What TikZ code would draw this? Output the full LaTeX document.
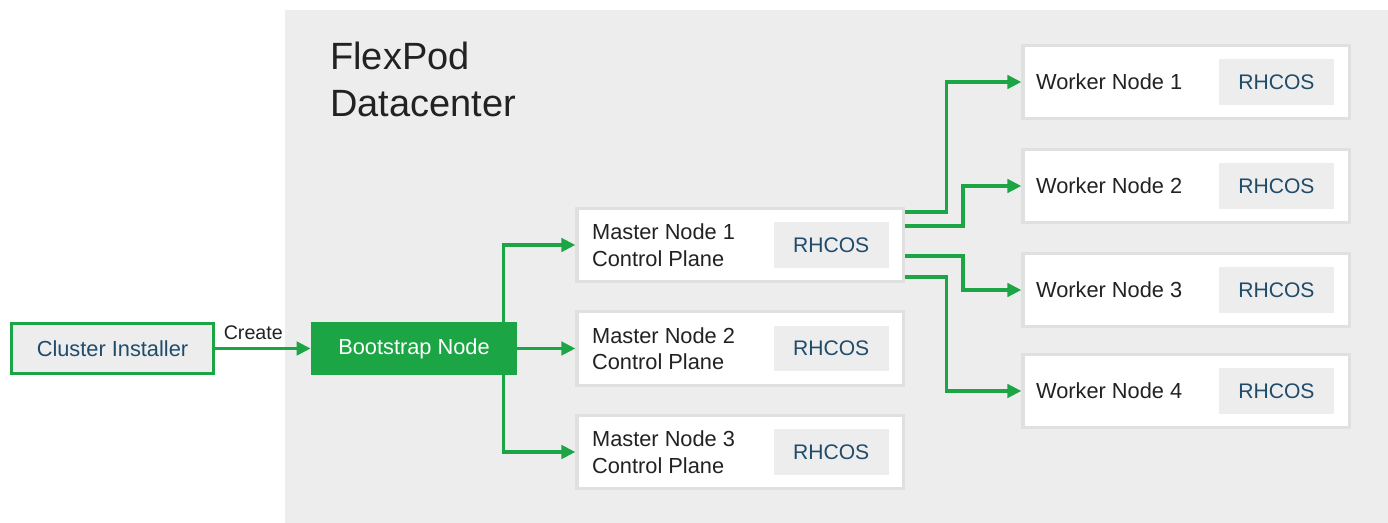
\documentclass[tikz,border=0pt]{standalone}
\usepackage{fontspec}
\setmainfont{Liberation Sans}
\usetikzlibrary{arrows.meta}
\definecolor{panelgray}{RGB}{237,237,237}
\definecolor{boxline}{RGB}{224,224,224}
\definecolor{ciscogreen}{RGB}{28,165,68}
\definecolor{rhblue}{RGB}{32,76,108}
\definecolor{inktext}{RGB}{34,34,34}

\begin{document}
\begin{tikzpicture}[x=0.025cm,y=-0.025cm,
  hostbox/.style={draw=boxline,line width=2.2pt,fill=white,minimum width=8.15cm,minimum height=1.84cm,inner sep=0pt},
  rhcos/.style={fill=panelgray,text=rhblue,minimum width=2.875cm,minimum height=1.14cm,inner sep=0pt,font=\fontsize{15}{18}\selectfont},
  hosttext/.style={anchor=west,align=left,inner sep=0pt,text=inktext,font=\fontsize{15.5}{18.8}\selectfont},
  titletext/.style={anchor=base west,inner sep=0pt,text=inktext,font=\fontsize{27}{32}\selectfont},
  flow/.style={draw=ciscogreen,line width=2.5pt,-{Triangle[length=10pt,width=9.5pt]}}]
  \useasboundingbox (0,0) rectangle (1388,523);
  \fill[panelgray] (285,10) rectangle (1388,523);
  \node[titletext] (title1) at (330,70) {FlexPod};
  \node[titletext] (title2) at (330,117) {Datacenter};
  % installer and bootstrap
  \node[draw=ciscogreen,line width=2.2pt,fill=panelgray,text=rhblue,minimum width=5.05cm,minimum height=1.25cm,
    inner sep=0pt,font=\fontsize{15.5}{18}\selectfont] (inst) at (112.5,348.5) {Cluster Installer};
  \node[fill=ciscogreen,text=white,minimum width=5.15cm,minimum height=1.325cm,inner sep=0pt,
    font=\fontsize{15.5}{18}\selectfont] (boot) at (414,348.5) {Bootstrap Node};
  % masters
  \foreach \i/\y in {1/245,2/348.5,3/452} {
    \node[hostbox] (m\i) at (740,\y) {};
    \node[hosttext] (mt\i) at ([xshift=0.41cm]m\i.west) {Master Node \i\\Control Plane};
    \node[rhcos,anchor=east] (mr\i) at ([xshift=-0.39cm]m\i.east) {RHCOS};
  }
  % workers
  \foreach \i/\y in {1/82,2/186,3/290,4/391} {
    \node[hostbox] (w\i) at (1186,\y) {};
    \node[hosttext] (wt\i) at ([xshift=0.36cm]w\i.west) {Worker Node \i};
    \node[rhcos,anchor=east] (wr\i) at ([xshift=-0.41cm]w\i.east) {RHCOS};
  }
  \draw[flow] (inst.east) -- node[pos=0.4,above=5pt,inner sep=0pt,text=inktext,font=\fontsize{14}{16}\selectfont] (create) {Create} (boot.west);
  \draw[flow] ([xshift=-0.35cm]boot.north east) |- (m1.west);
  \draw[flow] (boot.east) -- (m2.west);
  \draw[flow] ([xshift=-0.35cm]boot.south east) |- (m3.west);
  \foreach \i/\dy/\dx in {1/0.825/1.05,2/0.475/1.46,3/-0.275/1.46,4/-0.8/1.05} {
    \draw[flow] ([yshift=\dy cm]m1.east) -- ++(\dx cm,0) |- (w\i.west);
  }
\end{tikzpicture}
\end{document}
